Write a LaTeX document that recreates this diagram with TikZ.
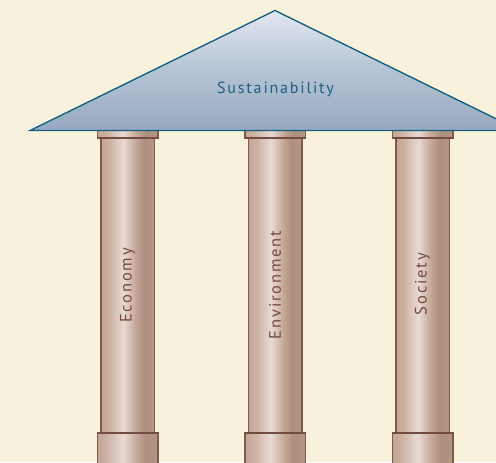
\documentclass[tikz,border=0pt]{standalone}
\usepackage{fontspec}
\setmainfont{PT Sans}
\newfontfamily\spaced[LetterSpace=11]{PT Sans}
\definecolor{paper}{HTML}{F8F2DC}
\definecolor{roofline}{HTML}{0F5F80}
\definecolor{rooftext}{HTML}{1F5F80}
\definecolor{pillarline}{HTML}{85594A}
\definecolor{pillartext}{HTML}{774A3E}
\definecolor{r0}{HTML}{96A9C0}\definecolor{r1}{HTML}{B5C4D4}\definecolor{r2}{HTML}{E2E7F0}
\pgfdeclareverticalshading{roofshade}{100bp}{
  color(0bp)=(r0);color(25bp)=(r0);color(50bp)=(r1);color(75bp)=(r2);color(100bp)=(r2)}
\definecolor{p0}{HTML}{C2A595}\definecolor{p1}{HTML}{CDB3A5}\definecolor{p2}{HTML}{E9DAD4}\definecolor{p3}{HTML}{C4A898}\definecolor{p4}{HTML}{AE8F7E}\definecolor{p5}{HTML}{B49684}
\pgfdeclarehorizontalshading{pillarshade}{100bp}{
  color(0bp)=(p0);color(25bp)=(p0);color(33bp)=(p1);color(46bp)=(p2);color(57bp)=(p3);color(65bp)=(p4);color(75bp)=(p5);color(100bp)=(p5)}
\tikzset{
  px/.style={x=0.75pt,y=-0.75pt},
  roof/.style={draw=roofline,line width=1pt,line join=miter,shading=roofshade},
  shaft/.style={draw=pillarline,line width=1pt,shading=pillarshade},
  capital/.style={draw=pillarline,line width=1pt,shading=pillarshade},
  capbottom/.style={draw=pillarline!85!black,line width=1.5pt},
  pillarlabel/.style={font=\spaced\fontsize{12.4}{14}\selectfont,text=pillartext,rotate=90,inner sep=0pt},
  rooflabel/.style={font=\spaced\fontsize{12.1}{14}\selectfont,text=rooftext,inner sep=0pt}
}
\begin{document}
\begin{tikzpicture}[px]
\path[fill=paper,use as bounding box] (0,0) rectangle (496,462);
\clip (0,0) rectangle (496,462);
% shafts, plinths and capitals
\foreach \c/\n in {127.8/a,275.3/b,422.8/c}{
  \path[shaft] (\c-26.8,138) rectangle (\c+26.8,433);
  \path[capital] (\c-30.3,433) rectangle (\c+30.3,468);
  \draw[capbottom] (\c-30.3,433) -- (\c+30.3,433);
  \path[capital] (\c-30.3,130) rectangle (\c+30.3,138);
  \draw[capbottom] (\c-30.3,138) -- (\c+30.3,138);
}
% roof
\path[roof] (30,130.5) -- (275,10.5) -- (520,130.5) -- cycle;
\node[rooflabel] (sustain) at (275.5,89) {Sustainability};
\node[pillarlabel] (economy) at (127.5,285.5) {Economy};
\node[pillarlabel] (environment) at (275,285) {Environment};
\node[pillarlabel] (society) at (422.5,284) {Society};
\end{tikzpicture}
\end{document}
